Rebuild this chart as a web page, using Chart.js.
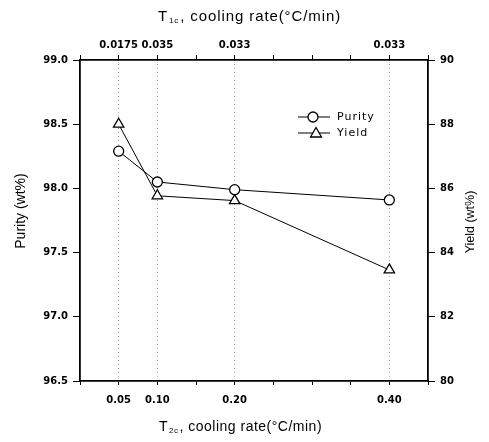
<!DOCTYPE html>
<html>
<head>
<meta charset="utf-8">
<script src="https://cdn.jsdelivr.net/npm/chart.js@4/dist/chart.umd.min.js"></script>
<style>
  html, body { margin: 0; padding: 0; background: #fff; }
  #wrap { width: 489px; height: 442px; }
</style>
</head>
<body>
<div id="wrap"><canvas id="chart" width="489" height="442"></canvas></div>
<script>
// cooling rates (x positions) and readings
const t2cRates = [0.05, 0.10, 0.20, 0.40];
const t2cLabels = ['0.05', '0.10', '0.20', '0.40'];
const t1cLabels = ['0.0175', '0.035', '0.033', '0.033'];
const purity = [98.29, 98.05, 97.99, 97.91];
const yieldPct = [88.0, 85.77, 85.62, 83.46];

const tickFont = { family: 'DejaVu Sans', size: 10, weight: 'bold' };

function labelAt(v, labels) {
  const i = t2cRates.findIndex(r => Math.abs(r - v) < 1e-6);
  return i >= 0 ? labels[i] : '';
}

function fixSize(prop, val) {
  return s => { s[prop] = val; };
}

// axis titles with subscripts + legend drawn inside the plot
const extras = {
  id: 'extras',
  afterDraw(chart) {
    const ctx = chart.ctx;
    ctx.save();
    ctx.fillStyle = '#000';
    ctx.textBaseline = 'middle';

    const subTitle = (cx, cy, sub, size, spacing) => {
      const big = size + 'px "Liberation Sans", Arial, sans-serif';
      const small = '8px "Liberation Sans", Arial, sans-serif';
      const rest = ', cooling rate(°C/min)';
      ctx.letterSpacing = spacing + 'px';
      ctx.font = big;
      const wT = ctx.measureText('T').width;
      const wR = ctx.measureText(rest).width;
      ctx.font = small;
      const wS = ctx.measureText(sub).width + 1;
      let x = cx - (wT + wS + wR) / 2;
      ctx.textAlign = 'left';
      ctx.font = big;
      ctx.fillText('T', x, cy);
      x += wT + 1;
      ctx.font = small;
      ctx.fillText(sub, x, cy + 4);
      x += wS;
      ctx.font = big;
      ctx.fillText(rest, x, cy);
      ctx.letterSpacing = '0px';
    };
    subTitle(249, 17, '1c', 15, 0.9);
    subTitle(240, 427, '2c', 14, 0.5);

    ctx.textAlign = 'center';
    ctx.font = '14px "Liberation Sans", Arial, sans-serif';
    ctx.save();
    ctx.translate(21, 211);
    ctx.rotate(-Math.PI / 2);
    ctx.fillText('Purity (wt%)', 0, 0);
    ctx.restore();
    ctx.font = '12.5px "Liberation Sans", Arial, sans-serif';
    ctx.save();
    ctx.translate(471, 222);
    ctx.rotate(-Math.PI / 2);
    ctx.fillText('Yield (wt%)', 0, 0);
    ctx.restore();

    // legend
    ctx.strokeStyle = '#000';
    ctx.lineWidth = 1;
    ctx.beginPath();
    ctx.moveTo(298, 117); ctx.lineTo(330, 117);
    ctx.moveTo(298, 133); ctx.lineTo(330, 133);
    ctx.stroke();
    ctx.lineWidth = 1.3;
    ctx.fillStyle = '#fff';
    ctx.beginPath();
    ctx.arc(313, 117, 5, 0, Math.PI * 2);
    ctx.fill(); ctx.stroke();
    ctx.beginPath();
    ctx.moveTo(316, 127.5); ctx.lineTo(321.5, 137); ctx.lineTo(310.5, 137);
    ctx.closePath();
    ctx.fill(); ctx.stroke();
    ctx.fillStyle = '#000';
    ctx.textAlign = 'left';
    ctx.font = '11px "DejaVu Sans", sans-serif';
    ctx.letterSpacing = '1px';
    ctx.fillText('Purity', 337, 117);
    ctx.fillText('Yield', 337, 133);
    ctx.letterSpacing = '0px';
    ctx.restore();
  }
};

new Chart(document.getElementById('chart'), {
  type: 'line',
  data: {
    datasets: [{
      label: 'Purity',
      data: t2cRates.map((x, i) => ({ x, y: purity[i] })),
      xAxisID: 'x',
      yAxisID: 'y',
      borderColor: '#000',
      borderWidth: 1,
      pointStyle: 'circle',
      pointRadius: 5,
      pointBackgroundColor: '#fff',
      pointBorderColor: '#000',
      pointBorderWidth: 1.3,
      tension: 0
    }, {
      label: 'Yield',
      data: t2cRates.map((x, i) => ({ x, y: yieldPct[i] })),
      xAxisID: 'x',
      yAxisID: 'y1',
      borderColor: '#000',
      borderWidth: 1,
      pointStyle: 'triangle',
      pointRadius: 6,
      pointBackgroundColor: '#fff',
      pointBorderColor: '#000',
      pointBorderWidth: 1.3,
      tension: 0
    }]
  },
  options: {
    responsive: false,
    animation: false,
    layout: { padding: 0 },
    plugins: { legend: { display: false }, tooltip: { enabled: false } },
    scales: {
      x: {
        type: 'linear',
        position: 'bottom',
        min: 0,
        max: 0.45,
        afterFit: fixSize('height', 61),
        ticks: {
          stepSize: 0.05,
          autoSkip: false,
          maxRotation: 0,
          padding: 9,
          color: '#000',
          font: tickFont,
          callback: v => labelAt(v, t2cLabels)
        },
        grid: {
          color: c => c.tick && labelAt(c.tick.value, t2cLabels) ? '#aaa' : 'rgba(0,0,0,0)',
          tickColor: '#000',
          tickLength: 4,
          lineWidth: 1
        },
        border: { color: '#000', width: 1.8, dash: [1, 3] }
      },
      xTop: {
        type: 'linear',
        position: 'top',
        min: 0,
        max: 0.45,
        afterFit: fixSize('height', 60),
        ticks: {
          stepSize: 0.05,
          autoSkip: false,
          maxRotation: 0,
          padding: 4,
          color: '#000',
          font: tickFont,
          callback: v => labelAt(v, t1cLabels)
        },
        grid: { drawOnChartArea: false, tickColor: '#000', tickLength: 5 },
        border: { color: '#000', width: 1.8 }
      },
      y: {
        position: 'left',
        min: 96.5,
        max: 99.0,
        afterFit: fixSize('width', 80),
        ticks: {
          stepSize: 0.5,
          padding: 5,
          color: '#000',
          font: tickFont,
          callback: v => v.toFixed(1)
        },
        grid: { drawOnChartArea: false, tickColor: '#000', tickLength: 7 },
        border: { color: '#000', width: 1.8 }
      },
      y1: {
        position: 'right',
        min: 80,
        max: 90,
        afterFit: fixSize('width', 61),
        ticks: {
          stepSize: 2,
          padding: 5,
          color: '#000',
          font: tickFont
        },
        grid: { drawOnChartArea: false, tickColor: '#000', tickLength: 7 },
        border: { color: '#000', width: 1.8 }
      }
    }
  },
  plugins: [extras]
});
</script>
</body>
</html>
